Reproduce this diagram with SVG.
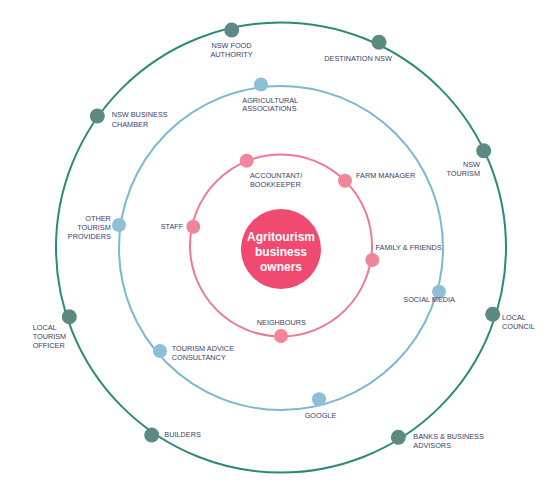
<svg xmlns="http://www.w3.org/2000/svg" width="555" height="485" viewBox="0 0 555 485">
<style>
.ring{fill:none;stroke-width:2}
.outer{stroke:#2b8a7a}
.mid{stroke:#79b9d2}
.inner{stroke:#f27692}
.d1{fill:#5c8a82}
.d2{fill:#8fbfd6}
.d3{fill:#ef8699}
text{font-family:"Liberation Sans",Arial,sans-serif;font-size:7.3px;fill:#38426f}
.c{font-size:12px;font-weight:bold;fill:#ffffff;text-anchor:middle}
.m{text-anchor:middle}
.e{text-anchor:end}
</style>
<rect width="555" height="485" fill="#ffffff"/>
<g id="rings">
<circle class="ring outer" cx="281" cy="247.5" r="225"/>
<circle class="ring mid" cx="281" cy="248" r="162"/>
<circle class="ring inner" cx="281" cy="245.5" r="91"/>
</g>
<g id="center">
<circle cx="281" cy="249" r="40" fill="#f04a70"/>
<text class="c" x="281" y="241">Agritourism</text>
<text class="c" x="281" y="256">business</text>
<text class="c" x="281" y="270.5">owners</text>
</g>
<g id="nsw-food-authority">
<circle class="d1" cx="231.7" cy="30" r="7.5"/>
<text class="m" x="231.5" y="47.7">NSW FOOD</text>
<text class="m" x="231.5" y="57">AUTHORITY</text>
</g>
<g id="destination-nsw">
<circle class="d1" cx="379" cy="42.3" r="7.5"/>
<text x="324.3" y="60.7">DESTINATION NSW</text>
</g>
<g id="nsw-business-chamber">
<circle class="d1" cx="97.3" cy="116" r="7.5"/>
<text x="111.7" y="117.3">NSW BUSINESS</text>
<text x="111.7" y="126.7">CHAMBER</text>
</g>
<g id="nsw-tourism">
<circle class="d1" cx="483.7" cy="150.7" r="7.5"/>
<text class="e" x="480" y="167.3">NSW</text>
<text class="e" x="480" y="176.3">TOURISM</text>
</g>
<g id="local-tourism-officer">
<circle class="d1" cx="69.3" cy="316.7" r="7.5"/>
<text x="32.7" y="330">LOCAL</text>
<text x="32.7" y="339">TOURISM</text>
<text x="32.7" y="348.3">OFFICER</text>
</g>
<g id="local-council">
<circle class="d1" cx="492.7" cy="314.3" r="7.5"/>
<text x="502" y="320">LOCAL</text>
<text x="502" y="329.3">COUNCIL</text>
</g>
<g id="builders">
<circle class="d1" cx="151.7" cy="435" r="7.5"/>
<text x="164.3" y="437.3">BUILDERS</text>
</g>
<g id="banks-business-advisors">
<circle class="d1" cx="398.3" cy="437.3" r="7.5"/>
<text x="413.3" y="439.3">BANKS &amp; BUSINESS</text>
<text x="413.3" y="448.3">ADVISORS</text>
</g>
<g id="agricultural-associations">
<circle class="d2" cx="261" cy="84.5" r="7"/>
<text x="242.3" y="102.7">AGRICULTURAL</text>
<text x="242.3" y="111.3">ASSOCIATIONS</text>
</g>
<g id="other-tourism-providers">
<circle class="d2" cx="119" cy="225" r="7"/>
<text class="e" x="110.8" y="221">OTHER</text>
<text class="e" x="110.8" y="230">TOURISM</text>
<text class="e" x="110.8" y="239">PROVIDERS</text>
</g>
<g id="social-media">
<circle class="d2" cx="439" cy="291.7" r="7"/>
<text x="403.3" y="301.7">SOCIAL MEDIA</text>
</g>
<g id="tourism-advice-consultancy">
<circle class="d2" cx="160" cy="351" r="7"/>
<text x="171.7" y="351">TOURISM ADVICE</text>
<text x="171.7" y="360">CONSULTANCY</text>
</g>
<g id="google">
<circle class="d2" cx="319" cy="399.3" r="7"/>
<text class="m" x="320.5" y="418.3">GOOGLE</text>
</g>
<g id="accountant-bookkeeper">
<circle class="d3" cx="246.7" cy="160.7" r="7"/>
<text x="250" y="178">ACCOUNTANT/</text>
<text x="250" y="187.3">BOOKKEEPER</text>
</g>
<g id="farm-manager">
<circle class="d3" cx="345" cy="180.7" r="7"/>
<text x="356" y="178">FARM MANAGER</text>
</g>
<g id="staff">
<circle class="d3" cx="193.3" cy="226.7" r="7"/>
<text class="e" x="183.3" y="228.7">STAFF</text>
</g>
<g id="family-friends">
<circle class="d3" cx="372.3" cy="260" r="7"/>
<text x="375.5" y="250">FAMILY &amp; FRIENDS</text>
</g>
<g id="neighbours">
<circle class="d3" cx="281" cy="336" r="7"/>
<text class="m" x="281.3" y="325">NEIGHBOURS</text>
</g>
</svg>
